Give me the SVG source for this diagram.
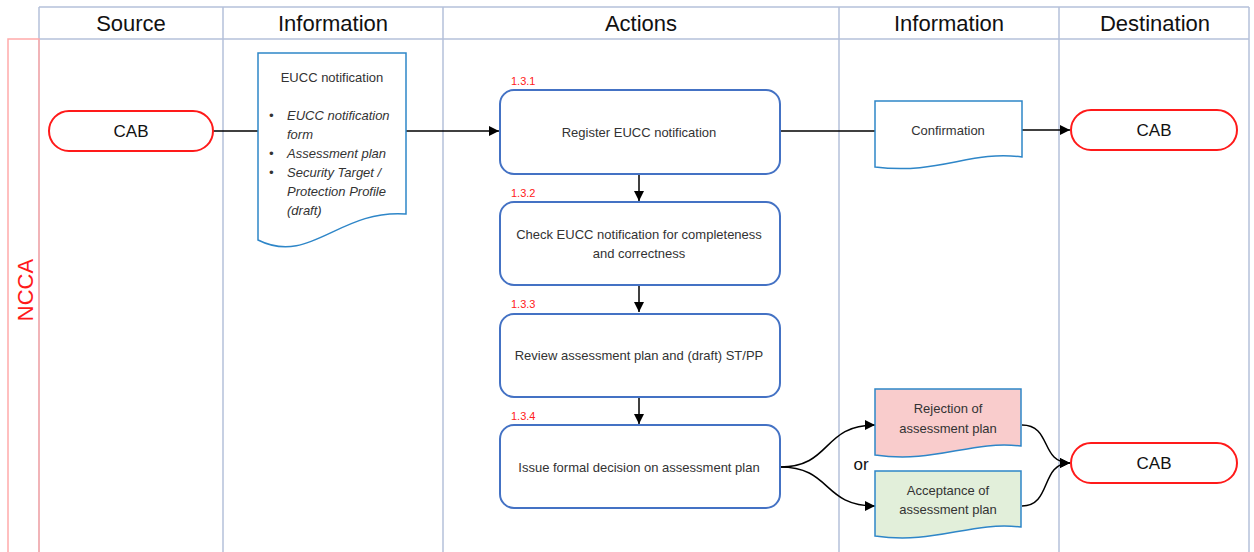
<svg xmlns="http://www.w3.org/2000/svg" width="1254" height="552" viewBox="0 0 1254 552">
<defs>
<marker id="arr" viewBox="0 0 10 10" refX="10" refY="5" markerWidth="10" markerHeight="10" markerUnits="userSpaceOnUse" orient="auto">
<path d="M0,0 L10,5 L0,10 Z" fill="#000"/>
</marker>
<style>
.lane{stroke:#B4C0DA;stroke-width:1.5;fill:none}
.red{stroke:#FFAAAA;stroke-width:1.5;fill:none}
.hdr{font-family:"Liberation Sans",Arial,sans-serif;font-size:22px;fill:#111;text-anchor:middle}
.term{fill:#fff;stroke:#FF1A1A;stroke-width:2}
.termt{font-family:"Liberation Sans",Arial,sans-serif;font-size:17px;fill:#111;text-anchor:middle}
.act{fill:#fff;stroke:#4472C4;stroke-width:2}
.t{font-family:"Liberation Sans",Arial,sans-serif;font-size:13px;fill:#333;text-anchor:middle}
.ti{font-family:"Liberation Sans",Arial,sans-serif;font-size:13px;fill:#333;font-style:italic}
.num{font-family:"Liberation Sans",Arial,sans-serif;font-size:11px;fill:#FF2020}
.doc{stroke:#2E86C8;stroke-width:1.5}
.con{stroke:#000;stroke-width:1.5;fill:none}
</style>
</defs>
<rect width="1254" height="552" fill="#fff"/>
<g id="lanes">
<line class="lane" x1="39" y1="7" x2="1249" y2="7"/>
<line class="lane" x1="39" y1="39" x2="1249" y2="39"/>
<line class="lane" x1="39" y1="7" x2="39" y2="552"/>
<line class="lane" x1="223" y1="7" x2="223" y2="552"/>
<line class="lane" x1="443" y1="7" x2="443" y2="552"/>
<line class="lane" x1="839" y1="7" x2="839" y2="552"/>
<line class="lane" x1="1059" y1="7" x2="1059" y2="552"/>
<line class="lane" x1="1249" y1="7" x2="1249" y2="552"/>
<path class="red" d="M8,552 V39 H39 V552"/>
<text class="hdr" x="131" y="31">Source</text>
<text class="hdr" x="333" y="31">Information</text>
<text class="hdr" x="641" y="31">Actions</text>
<text class="hdr" x="949" y="31">Information</text>
<text class="hdr" x="1155" y="31">Destination</text>
<text transform="translate(33,290) rotate(-90)" font-family="'Liberation Sans',Arial,sans-serif" font-size="22" fill="#FF1A1A" text-anchor="middle">NCCA</text>
</g>
<g id="connectors">
<line class="con" x1="213" y1="131" x2="259" y2="131"/>
<line class="con" x1="406" y1="131" x2="499" y2="131" marker-end="url(#arr)"/>
<line class="con" x1="780" y1="131" x2="876" y2="131"/>
<line class="con" x1="1022" y1="130" x2="1070" y2="130" marker-end="url(#arr)"/>
<line class="con" x1="639" y1="174" x2="639" y2="201" marker-end="url(#arr)"/>
<line class="con" x1="639" y1="286" x2="639" y2="312" marker-end="url(#arr)"/>
<line class="con" x1="639" y1="398" x2="639" y2="424" marker-end="url(#arr)"/>
<path class="con" d="M780,467 C832,467 822,425 875,425" marker-end="url(#arr)"/>
<path class="con" d="M780,467 C832,467 822,506 875,506" marker-end="url(#arr)"/>
<path class="con" d="M1022,425 C1052,425 1040,463 1070,463" marker-end="url(#arr)"/>
<path class="con" d="M1022,506 C1052,506 1040,463 1070,463" marker-end="url(#arr)"/>
<text x="861" y="470" font-family="'Liberation Sans',Arial,sans-serif" font-size="17" fill="#111" text-anchor="middle">or</text>
</g>
<g id="cab-source">
<rect class="term" x="49" y="111" width="164" height="40" rx="20"/>
<text class="termt" x="131" y="137">CAB</text>
</g>
<g id="doc-eucc">
<path class="doc" fill="#fff" d="M258,53 H406 V214 C339,209 310,266 258,240 Z"/>
<text class="t" x="332" y="82">EUCC notification</text>
<text class="ti" x="269" y="120" font-style="normal">•</text>
<text class="ti" x="287" y="120">EUCC notification</text>
<text class="ti" x="287" y="139">form</text>
<text class="ti" x="269" y="158" font-style="normal">•</text>
<text class="ti" x="287" y="158">Assessment plan</text>
<text class="ti" x="269" y="177" font-style="normal">•</text>
<text class="ti" x="287" y="177">Security Target /</text>
<text class="ti" x="287" y="196">Protection Profile</text>
<text class="ti" x="287" y="215">(draft)</text>
</g>
<g id="act-131">
<text class="num" x="511" y="85">1.3.1</text>
<rect class="act" x="500" y="90" width="280" height="84" rx="14"/>
<text class="t" x="639" y="137">Register EUCC notification</text>
</g>
<g id="act-132">
<text class="num" x="511" y="197">1.3.2</text>
<rect class="act" x="500" y="202" width="280" height="83" rx="14"/>
<text class="t" x="639" y="239">Check EUCC notification  for completeness</text>
<text class="t" x="639" y="258">and correctness</text>
</g>
<g id="act-133">
<text class="num" x="511" y="308">1.3.3</text>
<rect class="act" x="500" y="314" width="280" height="83" rx="14"/>
<text class="t" x="639" y="360">Review assessment plan and (draft) ST/PP</text>
</g>
<g id="act-134">
<text class="num" x="511" y="420">1.3.4</text>
<rect class="act" x="500" y="425" width="280" height="83" rx="14"/>
<text class="t" x="639" y="472">Issue formal decision on assessment plan</text>
</g>
<g id="doc-confirmation">
<path class="doc" fill="#fff" d="M875,101 H1022 V157 C970,150 940,175 875,167 Z"/>
<text class="t" x="948" y="135">Confirmation</text>
</g>
<g id="cab-dest1">
<rect class="term" x="1071" y="110" width="166" height="40" rx="20"/>
<text class="termt" x="1154" y="136">CAB</text>
</g>
<g id="doc-rejection">
<path class="doc" fill="#F9CCCC" d="M875,389 H1021 V446 C970,440 935,464 875,455 Z"/>
<text class="t" x="948" y="413">Rejection of</text>
<text class="t" x="948" y="433">assessment plan</text>
</g>
<g id="doc-acceptance">
<path class="doc" fill="#E2EFDA" d="M875,471 H1021 V527 C970,521 935,545 875,536 Z"/>
<text class="t" x="948" y="495">Acceptance of</text>
<text class="t" x="948" y="514">assessment plan</text>
</g>
<g id="cab-dest2">
<rect class="term" x="1071" y="443" width="166" height="40" rx="20"/>
<text class="termt" x="1154" y="469">CAB</text>
</g>
</svg>
